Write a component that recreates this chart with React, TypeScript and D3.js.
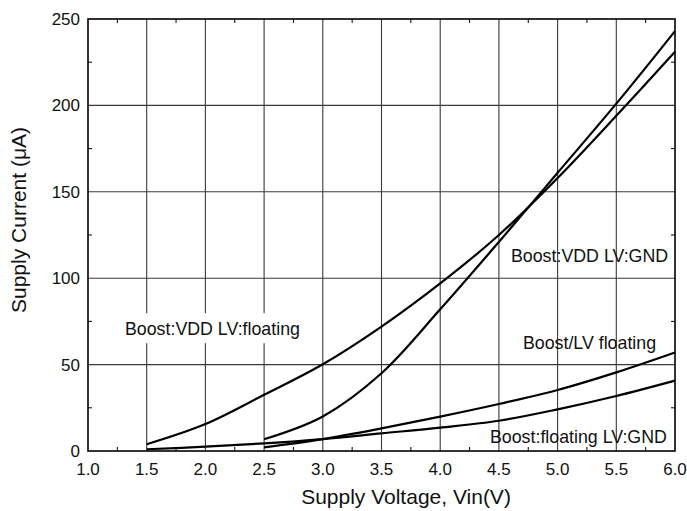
import React from "react";
import * as d3 from "d3";

const xTicks = [1.0, 1.5, 2.0, 2.5, 3.0, 3.5, 4.0, 4.5, 5.0, 5.5, 6.0];
const yTicks = [0, 50, 100, 150, 200, 250];

const vddFloatX = [1.5, 2.0, 2.5, 3.0, 3.5, 4.0, 4.5, 5.0, 5.5, 6.0];
const vddFloatY = [3.9, 15.6, 32.5, 50.2, 72, 97, 125, 158, 194, 231];

const vddGndX = [2.5, 3.0, 3.5, 4.0, 4.5, 5.0, 5.5, 6.0];
const vddGndY = [6.8, 20, 45, 82, 121, 161, 201, 243];

const lvFloatX = [2.5, 3.0, 3.5, 4.0, 4.5, 5.0, 5.5, 6.0];
const lvFloatY = [2.1, 6.9, 13.1, 19.9, 27.2, 35.3, 45.5, 57];

const lowX = [1.5, 2.0, 2.5, 3.0, 3.5, 4.0, 4.5, 5.0, 5.5, 6.0];
const lowY = [1.0, 2.5, 4.4, 6.9, 10.2, 13.5, 17.5, 24.1, 31.8, 40.7];

const seriesList = [
  { xs: vddFloatX, ys: vddFloatY },
  { xs: vddGndX, ys: vddGndY },
  { xs: lvFloatX, ys: lvFloatY },
  { xs: lowX, ys: lowY },
];

const labels = [
  { text: "Boost:VDD LV:floating", v: 1.315, c: 67, bg: true },
  { text: "Boost:VDD LV:GND", v: 4.603, c: 109.4, bg: false },
  { text: "Boost/LV floating", v: 4.705, c: 59, bg: false },
  { text: "Boost:floating LV:GND", v: 4.424, c: 4.6, bg: false },
];

const W = 687;
const H = 511;
const FONT = "'Liberation Sans', Arial, Helvetica, sans-serif";

export default function App() {
  const x = d3.scaleLinear().domain([1, 6]).range([88, 675]);
  const y = d3.scaleLinear().domain([0, 250]).range([451, 19]);
  const line = d3
    .line<[number, number]>()
    .x((d) => x(d[0]))
    .y((d) => y(d[1]))
    .curve(d3.curveCatmullRom.alpha(0.5));

  const minorX = d3.range(1.25, 6, 0.5);
  const minorY = d3.range(25, 250, 50);

  return (
    <svg
      width={W}
      height={H}
      style={{ position: "absolute", left: 0, top: 0, background: "#fff" }}
      fontFamily={FONT}
    >
      <rect x={0} y={0} width={W} height={H} fill="#fff" />
      {xTicks.slice(1, -1).map((t) => (
        <line key={"gx" + t} x1={x(t)} x2={x(t)} y1={y(0)} y2={y(250)} stroke="#3a3a3a" strokeWidth={1.1} />
      ))}
      {yTicks.slice(1, -1).map((t) => (
        <line key={"gy" + t} x1={x(1)} x2={x(6)} y1={y(t)} y2={y(t)} stroke="#3a3a3a" strokeWidth={1.1} />
      ))}
      {labels
        .filter((l) => l.bg)
        .map((l) => (
          <rect key={"bg" + l.text} x={x(l.v) - 5} y={y(l.c) - 22} width={186} height={30} fill="#fff" />
        ))}
      {minorX.map((t) => (
        <g key={"mx" + t}>
          <line x1={x(t)} x2={x(t)} y1={y(0)} y2={y(0) - 4} stroke="#000" strokeWidth={1} />
          <line x1={x(t)} x2={x(t)} y1={y(250)} y2={y(250) + 4} stroke="#000" strokeWidth={1} />
        </g>
      ))}
      {minorY.map((t) => (
        <g key={"my" + t}>
          <line x1={x(1)} x2={x(1) + 4} y1={y(t)} y2={y(t)} stroke="#000" strokeWidth={1} />
          <line x1={x(6)} x2={x(6) - 4} y1={y(t)} y2={y(t)} stroke="#000" strokeWidth={1} />
        </g>
      ))}
      <rect x={x(1)} y={y(250)} width={x(6) - x(1)} height={y(0) - y(250)} fill="none" stroke="#000" strokeWidth={1.6} />
      {seriesList.map((s, i) => (
        <path
          key={"s" + i}
          d={line(s.xs.map((v, j) => [v, s.ys[j]] as [number, number])) || ""}
          fill="none"
          stroke="#000"
          strokeWidth={2.2}
        />
      ))}
      {labels.map((l) => (
        <text key={l.text} x={x(l.v)} y={y(l.c)} fontSize={17.8} fill="#111">
          {l.text}
        </text>
      ))}
      {xTicks.map((t) => (
        <text key={"xt" + t} x={x(t)} y={475} fontSize={17} textAnchor="middle" fill="#111">
          {t.toFixed(1)}
        </text>
      ))}
      {yTicks.map((t) => (
        <text key={"yt" + t} x={80} y={y(t)} dy="0.35em" fontSize={17} textAnchor="end" fill="#111">
          {t}
        </text>
      ))}
      <text x={406} y={504} fontSize={21} textAnchor="middle" fill="#111">
        Supply Voltage, Vin(V)
      </text>
      <text transform={`translate(26,220) rotate(-90)`} fontSize={21} textAnchor="middle" fill="#111">
        Supply Current (μA)
      </text>
    </svg>
  );
}
